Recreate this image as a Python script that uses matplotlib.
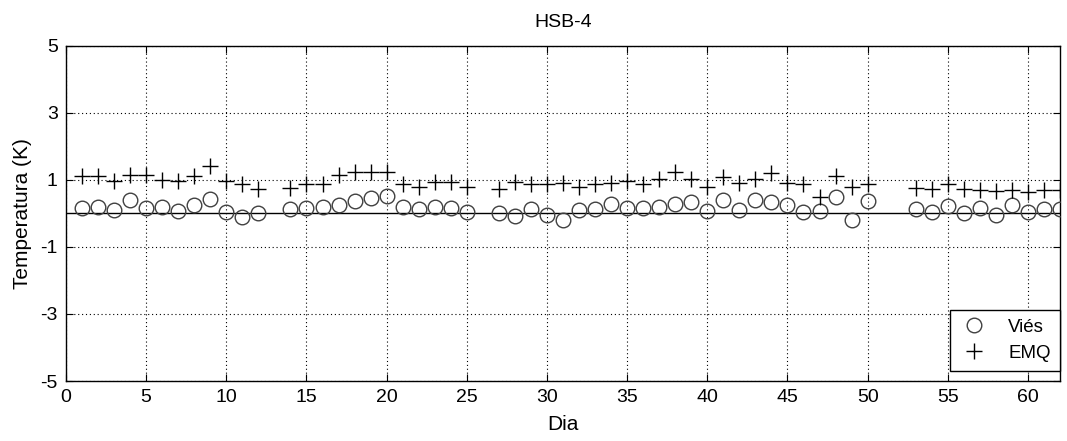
import numpy as np
import matplotlib
matplotlib.use("Agg")
import matplotlib.pyplot as plt

plt.rcParams['font.family'] = ['Liberation Sans', 'DejaVu Sans']
plt.rcParams['axes.unicode_minus'] = False

# Daily bias (Viés) and RMSE (EMQ) of temperature, station HSB-4
dias = [1, 2, 3, 4, 5, 6, 7, 8, 9, 10, 11, 12,
        14, 15, 16, 17, 18, 19, 20, 21, 22, 23, 24, 25,
        27, 28, 29, 30, 31, 32, 33, 34, 35, 36, 37, 38, 39, 40,
        41, 42, 43, 44, 45, 46, 47, 48, 49, 50,
        53, 54, 55, 56, 57, 58, 59, 60, 61, 62]
vies = [0.15, 0.20, 0.10, 0.39, 0.17, 0.20, 0.08, 0.25, 0.42, 0.05, -0.10, 0.00,
        0.13, 0.15, 0.20, 0.26, 0.37, 0.46, 0.52, 0.18, 0.13, 0.20, 0.15, 0.05,
        0.02, -0.08, 0.12, -0.05, -0.18, 0.10, 0.12, 0.29, 0.17, 0.17, 0.20, 0.27, 0.34, 0.08,
        0.41, 0.10, 0.39, 0.34, 0.25, 0.05, 0.07, 0.49, -0.20, 0.37,
        0.12, 0.05, 0.22, 0.00, 0.17, -0.05, 0.25, 0.05, 0.13, 0.12]
emq = [1.13, 1.11, 0.98, 1.15, 1.15, 1.00, 0.98, 1.13, 1.42, 0.98, 0.88, 0.74,
       0.75, 0.88, 0.88, 1.15, 1.23, 1.25, 1.23, 0.88, 0.78, 0.93, 0.93, 0.78,
       0.74, 0.93, 0.88, 0.88, 0.90, 0.78, 0.88, 0.90, 0.98, 0.88, 1.03, 1.25, 1.03, 0.78,
       1.10, 0.90, 1.03, 1.20, 0.90, 0.88, 0.49, 1.13, 0.78, 0.88,
       0.75, 0.74, 0.88, 0.74, 0.70, 0.66, 0.69, 0.64, 0.70, 0.70]

xticks = [0, 5, 10, 15, 20, 25, 30, 35, 40, 45, 50, 55, 60]
yticks = [-5, -3, -1, 1, 3, 5]

fig = plt.figure(figsize=(10.67, 4.41), dpi=100)
ax = fig.add_axes([66 / 1067, 1 - 381 / 441, (1060 - 66) / 1067, (381 - 46) / 441])

ax.axhline(0, color='black', lw=1.0, zorder=1)
ax.plot(dias, vies, linestyle='none', marker='o', markersize=10.5,
        markerfacecolor='none', markeredgecolor='#404040', markeredgewidth=1.0,
        label='Viés', zorder=3)
ax.plot(dias, emq, linestyle='none', marker='+', markersize=11.5,
        color='black', markeredgewidth=1.0, label='EMQ', zorder=3)

ax.set_xlim(0, 62)
ax.set_ylim(-5, 5)
ax.set_xticks(xticks)
ax.set_yticks(yticks)
ax.tick_params(direction='in', top=True, right=True, labelsize=14,
               length=5, width=0.8, pad=6)
ax.grid(True, linestyle=(0, (1, 2.5)), color='black', lw=0.8)
for s in ax.spines.values():
    s.set_linewidth(1.0)

ax.set_title('HSB-4', fontsize=14, pad=14)
ax.set_xlabel('Dia', fontsize=15, labelpad=6)
ax.set_ylabel('Temperatura (K)', fontsize=15, labelpad=6)

leg = ax.legend(loc='lower right', bbox_to_anchor=(1.0, 0.03), fontsize=13.5,
                fancybox=False, edgecolor='black', framealpha=1,
                borderaxespad=0, handletextpad=1.0, borderpad=0.5,
                labelspacing=0.45, handlelength=1.6)
leg.get_frame().set_linewidth(1.0)

fig.savefig('out.png', dpi=100)
